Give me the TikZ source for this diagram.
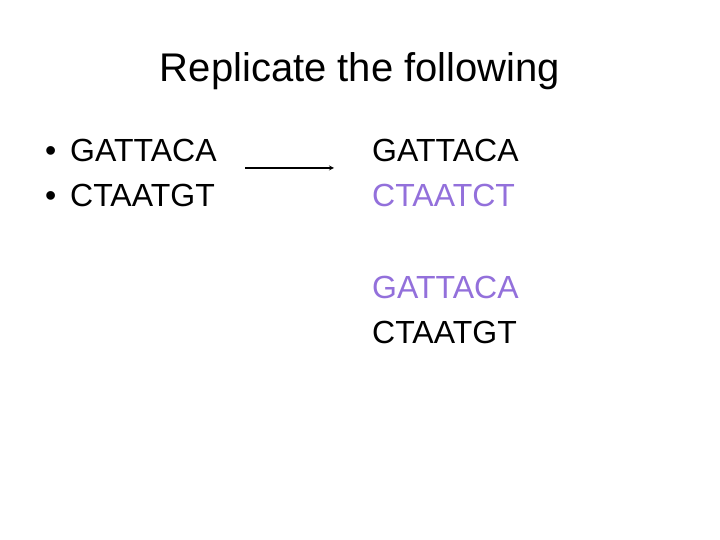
\documentclass[tikz,border=0pt]{standalone}
\usepackage{fontspec}
\setmainfont{Liberation Sans}
\definecolor{strandpurple}{RGB}{147,112,219}
\begin{document}
\begin{tikzpicture}[x=1pt, y=1pt, txt/.style={anchor=base west, inner sep=0pt, font=\fontsize{32}{38}\selectfont}]
\useasboundingbox (0,0) rectangle (720,540);
\node (title)[anchor=base, inner sep=0pt, font=\fontsize{40}{48}\selectfont] at (360,458) {Replicate the following};
\node (b1)[txt] at (45,378) {\textbullet};
\node (b2)[txt] at (45,333) {\textbullet};
\node (s1)[txt] at (70,378) {GATTACA};
\node (s2)[txt] at (70,333) {CTAATGT};
\node (r1)[txt] at (372,378) {GATTACA};
\node (r2)[txt, color=strandpurple] at (372,333) {CTAATCT};
\node (r3)[txt, color=strandpurple] at (372,241) {GATTACA};
\node (r4)[txt] at (372,196) {CTAATGT};
\coordinate (from) at (245,372);
\coordinate (to) at (334,372);
\draw[-stealth, line width=1.2pt] (from) -- (to);
\end{tikzpicture}
\end{document}
